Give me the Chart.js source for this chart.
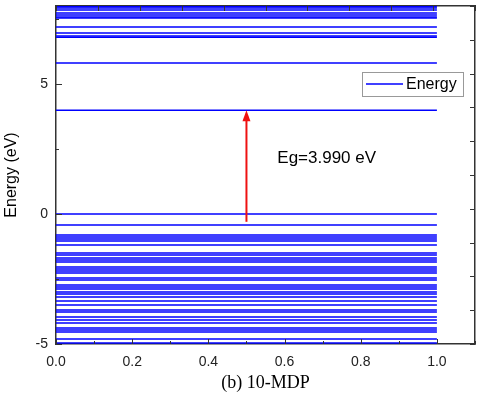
<!DOCTYPE html>
<html>
<head>
<meta charset="utf-8">
<script src="https://cdn.jsdelivr.net/npm/chart.js@4"></script>
<style>
  body { margin: 0; background: #fff; }
</style>
</head>
<body>
<canvas id="myChart" width="480" height="399"></canvas>
<script>
// energy levels (eV)
const occupied = [0, -0.42, -0.81, -0.88, -0.96, -1.04, -1.19, -1.50, -1.58, -1.69, -1.77, -1.85,
  -2.04, -2.12, -2.19, -2.27, -2.46, -2.54, -2.73, -2.81, -2.88, -3.00, -3.08, -3.19, -3.35,
  -3.50, -3.69, -3.77, -3.96, -4.08, -4.19, -4.38, -4.46, -4.54, -4.81, -4.96];
const unoccupied = [3.99, 5.81, 6.80, 6.85, 6.96, 7.19, 7.54, 7.58, 7.65, 7.73, 7.85, 7.92, 7.97];
const levelX = [0, 1];
const xLabels = [0, 0.2, 0.4, 0.6, 0.8, 1.0];
const yLabels = [-5, 0, 5];
const gapX = 0.5;
const gapFrom = -0.3;
const gapTo = 3.99;
const gapText = "Eg=3.990 eV";

const levels = occupied.concat(unoccupied).sort((a, b) => b - a);

const datasets = levels.map((e, i) => ({
  label: i === 0 ? 'Energy' : '',
  data: levelX.map(x => ({ x: x, y: e })),
  borderColor: '#0000ff',
  borderWidth: 1.5,
  pointRadius: 0,
  fill: false
}));

// tick marks drawn inward
const insideTicks = {
  id: 'insideTicks',
  afterDraw(chart) {
    const c = chart.ctx, a = chart.chartArea, s = chart.scales;
    c.save();
    c.strokeStyle = '#333';
    c.lineWidth = 1;
    s.x.ticks.forEach(t => {
      const px = Math.round(s.x.getPixelForValue(t.value)) + 0.5;
      const major = Math.abs(t.value * 5 - Math.round(t.value * 5)) < 1e-6;
      c.beginPath(); c.moveTo(px, a.bottom); c.lineTo(px, a.bottom - (major ? 5 : 3)); c.stroke();
    });
    s.x2.ticks.forEach(t => {
      const px = Math.round(s.x2.getPixelForValue(t.value)) + 0.5;
      c.beginPath(); c.moveTo(px, a.top); c.lineTo(px, a.top + 5); c.stroke();
    });
    s.y.ticks.forEach(t => {
      const py = Math.round(s.y.getPixelForValue(t.value)) + 0.5;
      const major = t.value % 5 === 0;
      c.beginPath(); c.moveTo(a.left, py); c.lineTo(a.left + (major ? 6 : 3), py); c.stroke();
    });
    s.y2.ticks.forEach(t => {
      const py = Math.round(s.y2.getPixelForValue(t.value)) + 0.5;
      c.beginPath(); c.moveTo(a.right, py); c.lineTo(a.right - 5, py); c.stroke();
    });
    c.restore();
  }
};

// band gap arrow, its label and the legend box
const gapArrow = {
  id: 'gapArrow',
  afterDatasetsDraw(chart) {
    const c = chart.ctx, s = chart.scales;
    const px = s.x.getPixelForValue(gapX);
    const y0 = s.y.getPixelForValue(gapFrom);
    const y1 = s.y.getPixelForValue(gapTo);
    c.save();
    c.strokeStyle = '#ee1111';
    c.fillStyle = '#ee1111';
    c.lineWidth = 2;
    c.beginPath(); c.moveTo(px, y0); c.lineTo(px, y1 + 9); c.stroke();
    c.beginPath(); c.moveTo(px, y1); c.lineTo(px - 4, y1 + 11); c.lineTo(px + 4, y1 + 11); c.closePath(); c.fill();
    c.fillStyle = '#000';
    c.font = '17px "Liberation Sans", Arial';
    c.textBaseline = 'middle';
    c.fillText(gapText, s.x.getPixelForValue(0.581), s.y.getPixelForValue(2.15));

    // legend
    c.fillStyle = '#fff';
    c.fillRect(362, 72, 101, 24);
    c.strokeStyle = '#999';
    c.lineWidth = 1;
    c.strokeRect(362.5, 72.5, 101, 24);
    c.strokeStyle = '#0000ff';
    c.lineWidth = 1.5;
    c.beginPath(); c.moveTo(366, 84); c.lineTo(403, 84); c.stroke();
    c.fillStyle = '#000';
    c.font = '16px "Liberation Sans", Arial';
    c.fillText(datasets[0].label, 406, 85);
    c.restore();
  }
};

const noPad = s => { s.paddingTop = 0; s.paddingBottom = 0; s.paddingLeft = 0; s.paddingRight = 0; };

new Chart(document.getElementById('myChart'), {
  type: 'line',
  data: { datasets: datasets },
  options: {
    responsive: false,
    animation: false,
    layout: { padding: 0 },
    plugins: {
      legend: { display: false },
      tooltip: { enabled: false }
    },
    scales: {
      x: {
        type: 'linear',
        position: 'bottom',
        min: 0, max: 1.1,
        afterFit: s => { s.height = 55; noPad(s); },
        grid: { display: false },
        border: { display: true, color: '#333', width: 1.5 },
        ticks: {
          stepSize: 0.1,
          padding: 2,
          color: '#222',
          font: { family: '"Liberation Sans", Arial', size: 14 },
          callback: v => xLabels.some(l => Math.abs(l - v) < 1e-6) ? v.toFixed(1) : ''
        },
        title: {
          display: true,
          text: '(b) 10-MDP',
          color: '#000',
          font: { family: '"Liberation Serif", "Times New Roman"', size: 18 },
          padding: { top: 0, bottom: 5 }
        }
      },
      x2: {
        type: 'linear',
        position: 'top',
        min: 0, max: 10,
        afterFit: s => { s.height = 6; noPad(s); },
        grid: { display: false },
        border: { display: true, color: '#333', width: 1.5 },
        ticks: { display: false, stepSize: 1 }
      },
      y: {
        type: 'linear',
        position: 'left',
        min: -5, max: 8,
        afterFit: s => { s.width = 56; noPad(s); },
        afterBuildTicks: s => { s.ticks = [-5, -2.5, 0, 2.5, 5, 7.5].map(v => ({ value: v })); },
        grid: { display: false },
        border: { display: true, color: '#333', width: 1.5 },
        ticks: {
          padding: 0,
          color: '#222',
          font: { family: '"Liberation Sans", Arial', size: 14 },
          callback: v => yLabels.includes(v) ? String(v) : ''
        },
        title: {
          display: true,
          text: 'Energy (eV)',
          color: '#000',
          font: { family: '"Liberation Sans", Arial', size: 16 },
          padding: { top: 2, bottom: 10 }
        }
      },
      y2: {
        type: 'linear',
        position: 'right',
        min: 0, max: 10,
        afterFit: s => { s.width = 5; noPad(s); },
        grid: { display: false },
        border: { display: true, color: '#333', width: 1.5 },
        ticks: { display: false, stepSize: 1 }
      }
    }
  },
  plugins: [insideTicks, gapArrow]
});
</script>
</body>
</html>
